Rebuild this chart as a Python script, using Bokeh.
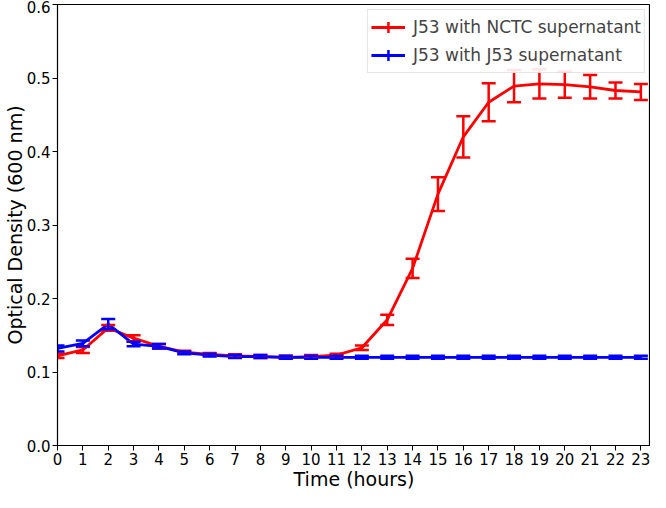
from bokeh.plotting import figure
from bokeh.models import (ColumnDataSource, Whisker, TeeHead, Legend, LegendItem, FixedTicker,
                          Range1d, CustomJSTickFormatter)
from bokeh.embed import file_html
from bokeh.resources import INLINE

hours = list(range(24))
red_od = [0.122, 0.130, 0.160, 0.146, 0.135, 0.127, 0.124, 0.122, 0.121, 0.120, 0.121, 0.123,
          0.133, 0.171, 0.241, 0.342, 0.420, 0.467, 0.489, 0.492, 0.491, 0.488, 0.483, 0.481]
red_err = [0.003, 0.004, 0.004, 0.004, 0.003, 0.002, 0.002, 0.002, 0.002, 0.002, 0.002, 0.002,
           0.003, 0.007, 0.013, 0.023, 0.028, 0.026, 0.022, 0.020, 0.018, 0.016, 0.011, 0.011]
blue_od = [0.132, 0.139, 0.165, 0.138, 0.135, 0.126, 0.123, 0.121, 0.121, 0.120, 0.120, 0.120,
           0.120, 0.120, 0.120, 0.120, 0.120, 0.120, 0.120, 0.120, 0.120, 0.120, 0.120, 0.120]
blue_err = [0.004, 0.004, 0.007, 0.003, 0.003, 0.002, 0.002, 0.002, 0.002, 0.002, 0.002, 0.002,
            0.002, 0.002, 0.002, 0.002, 0.002, 0.002, 0.002, 0.002, 0.002, 0.002, 0.002, 0.002]
series_names = ["J53 with NCTC supernatant", "J53 with J53 supernatant"]
y_ticks = [0.0, 0.1, 0.2, 0.3, 0.4, 0.5, 0.6]

FONT = "DejaVu Sans"
RED = "#ff0000"
BLUE = "#0000ff"

p = figure(width=650, height=492, output_backend="svg", toolbar_location=None,
           x_range=Range1d(0, 23.38), y_range=Range1d(0, 0.6),
           min_border_left=0, min_border_right=0, min_border_top=4, min_border_bottom=0)
p.xgrid.visible = False
p.ygrid.visible = False
p.outline_line_color = "black"
p.outline_line_width = 1.2
p.background_fill_color = "white"
p.border_fill_color = "white"

def src(y, e):
    return ColumnDataSource(dict(x=hours, y=y,
                                 lo=[a - b for a, b in zip(y, e)],
                                 hi=[a + b for a, b in zip(y, e)]))

items = []
for ys, es, col, name in [(red_od, red_err, RED, series_names[0]), (blue_od, blue_err, BLUE, series_names[1])]:
    s = src(ys, es)
    ln = p.line("x", "y", source=s, line_color=col, line_width=2.8)
    w = Whisker(source=s, base="x", upper="hi", lower="lo", line_color=col, line_width=2.5,
                upper_head=TeeHead(size=14, line_color=col, line_width=2.5),
                lower_head=TeeHead(size=14, line_color=col, line_width=2.5), level="glyph")
    p.add_layout(w)
    # legend-only marker (NaN position, never drawn on the plot)
    mk = p.scatter(x=[float("nan")], y=[float("nan")], marker="cross", size=12,
                   line_color=col, line_width=2.5)
    items.append(LegendItem(label=name, renderers=[ln, mk]))

legend = Legend(items=items, location="top_right", label_text_font=FONT, label_text_font_size="17px",
                border_line_color="#cccccc", border_line_width=1, background_fill_alpha=0.9,
                glyph_width=34, glyph_height=28, spacing=0, padding=3, margin=5, label_standoff=8)
p.add_layout(legend)

p.xaxis.ticker = FixedTicker(ticks=hours)
p.yaxis.ticker = FixedTicker(ticks=y_ticks)
p.yaxis.formatter = CustomJSTickFormatter(code="return tick.toFixed(1);")
p.xaxis.axis_label = "Time (hours)"
p.yaxis.axis_label = "Optical Density (600 nm)"
for ax in [p.xaxis[0], p.yaxis[0]]:
    ax.axis_label_text_font = FONT
    ax.axis_label_text_font_size = "19px"
    ax.axis_label_text_font_style = "normal"
    ax.major_label_text_font = FONT
    ax.major_label_text_font_size = "15px"
    ax.major_label_text_color = "black"
    ax.axis_label_text_color = "black"
    ax.axis_line_color = "black"
    ax.major_tick_line_color = "black"
    ax.major_tick_in = 0
    ax.major_tick_out = 5
    ax.minor_tick_line_color = None
    ax.axis_label_standoff = 0
    ax.major_label_standoff = 2
p.xaxis[0].axis_label_standoff = 0
p.yaxis[0].axis_label_standoff = -2

open("out.html", "w").write(file_html(p, INLINE))
